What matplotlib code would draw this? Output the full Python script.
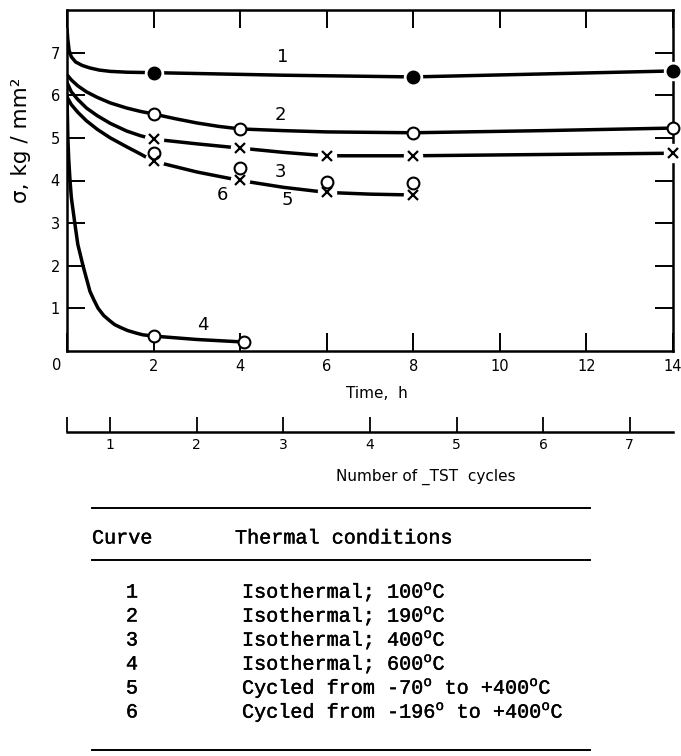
import matplotlib
matplotlib.use("Agg")
import matplotlib.pyplot as plt
from matplotlib.lines import Line2D
from matplotlib.transforms import blended_transform_factory
import matplotlib.patheffects as pe

plt.rcParams['font.family'] = ['DejaVu Sans']
plt.rcParams['mathtext.fontset'] = 'custom'
plt.rcParams['mathtext.rm'] = 'Liberation Mono'

# ---- data ----
# curve paths (time h, sigma kg/mm2)
c1_t = [0, 0.02, 0.05, 0.1, 0.2, 0.35, 0.53, 0.75, 1.0, 1.4, 2, 5, 8, 11, 14]
c1_s = [7.55, 7.3, 7.05, 6.9, 6.78, 6.7, 6.64, 6.59, 6.56, 6.54, 6.53, 6.47, 6.43, 6.5, 6.57]
c2_t = [0, 0.1, 0.25, 0.45, 0.7, 1.0, 1.38, 1.7, 2, 2.5, 3, 3.5, 4, 5, 6, 8, 11, 14]
c2_s = [6.48, 6.36, 6.22, 6.08, 5.95, 5.82, 5.70, 5.62, 5.56, 5.45, 5.35, 5.27, 5.21, 5.17, 5.14, 5.12, 5.17, 5.23]
c3_t = [0, 0.1, 0.25, 0.45, 0.7, 1.0, 1.38, 1.7, 2, 3, 4, 5, 6, 8, 11, 14]
c3_s = [6.3, 6.08, 5.9, 5.7, 5.52, 5.34, 5.16, 5.05, 4.97, 4.86, 4.76, 4.66, 4.58, 4.58, 4.61, 4.64]
c5_t = [0, 0.1, 0.25, 0.45, 0.7, 1.0, 1.38, 1.7, 2, 3, 4, 5, 6, 7, 8]
c5_s = [5.96, 5.78, 5.6, 5.4, 5.2, 5.0, 4.79, 4.62, 4.45, 4.2, 4.0, 3.84, 3.72, 3.68, 3.66]
c4_t = [0, 0.02, 0.04, 0.07, 0.1, 0.18, 0.25, 0.37, 0.45, 0.53, 0.62, 0.72, 0.85, 1.0, 1.1, 1.22, 1.4, 1.6, 1.75, 2, 3, 4.1]
c4_s = [6.0, 5.0, 4.5, 4.0, 3.6, 3.0, 2.5, 2.0, 1.7, 1.4, 1.2, 1.0, 0.83, 0.7, 0.62, 0.56, 0.48, 0.42, 0.38, 0.35, 0.27, 0.21]

# measured points
p1_t = [2, 8, 14];            p1_s = [6.53, 6.43, 6.57]
p2_t = [2, 4, 8, 14];         p2_s = [5.56, 5.21, 5.12, 5.23]
p3_t = [2, 4, 6, 8, 14];      p3_s = [4.97, 4.76, 4.58, 4.58, 4.64]
p4_t = [2, 4.1];              p4_s = [0.35, 0.21]
p5_t = [2, 4, 6, 8];          p5_s = [4.45, 4.01, 3.72, 3.66]
p6_t = [2, 4, 6, 8];          p6_s = [4.65, 4.29, 3.97, 3.94]

curve_labels = ['1', '2', '3', '4', '5', '6']
label_pos_t = [4.99, 4.94, 4.92, 3.14, 5.08, 3.6]
label_pos_s = [6.9, 5.54, 4.2, 0.61, 3.54, 3.66]

x_ticks = [0, 2, 4, 6, 8, 10, 12, 14]
y_ticks = [1, 2, 3, 4, 5, 6, 7]
cycle_ticks = [1, 2, 3, 4, 5, 6, 7]

table_curves = ['1', '2', '3', '4', '5', '6']
table_conditions = [
    r'Isothermal; 100$^{\rm o}$C',
    r'Isothermal; 190$^{\rm o}$C',
    r'Isothermal; 400$^{\rm o}$C',
    r'Isothermal; 600$^{\rm o}$C',
    r'Cycled from -70$^{\rm o}$ to +400$^{\rm o}$C',
    r'Cycled from -196$^{\rm o}$ to +400$^{\rm o}$C',
]

W, H = 681, 756
def fx(x): return x / W
def fy(y): return 1 - y / H

fig = plt.figure(figsize=(W / 100, H / 100), dpi=100)
ax = fig.add_axes([fx(67), fy(351), (673 - 67) / W, (351 - 10) / H])
ax.set_xlim(0, 14)
ax.set_ylim(0, 8)
for sp in ax.spines.values():
    sp.set_linewidth(1.8)

lw = 2.5
for t, s in [(c1_t, c1_s), (c2_t, c2_s), (c3_t, c3_s), (c5_t, c5_s), (c4_t, c4_s)]:
    ax.plot(t, s, color='black', lw=lw, solid_capstyle='round', solid_joinstyle='round', zorder=2)

# white halos to imitate the gaps drawn around the points
for t, s in [(p1_t, p1_s), (p3_t, p3_s), (p5_t, p5_s)]:
    ax.plot(t, s, ls='none', marker='o', ms=13, mfc='white', mec='white', zorder=3, clip_on=False)

ax.plot(p1_t, p1_s, ls='none', marker='o', ms=9, mfc='black', mec='black', zorder=4, clip_on=False)
for t, s in [(p2_t, p2_s), (p4_t, p4_s), (p6_t, p6_s)]:
    ax.plot(t, s, ls='none', marker='o', ms=8.5, mfc='white', mec='black', mew=1.5, zorder=4, clip_on=False)
for t, s in [(p3_t, p3_s), (p5_t, p5_s)]:
    ax.plot(t, s, ls='none', marker='x', ms=6.5, mec='black', mew=1.6, zorder=4, clip_on=False)

for lab, t, s in zip(curve_labels, label_pos_t, label_pos_s):
    ax.text(t, s, lab, ha='center', va='center', fontsize=13, color='black')

ax.set_xticks(x_ticks)
ax.set_xticklabels([''] + [str(v) for v in x_ticks[1:]])
ax.set_yticks(y_ticks)
ax.set_yticklabels([str(v) for v in y_ticks])
ax.tick_params(direction='in', length=13, width=1.4, top=True, right=True,
               labelsize=10.5, pad=6)
ax.tick_params(axis='y', pad=5)
trans = blended_transform_factory(ax.transData, ax.transAxes)
ax.text(-0.23, -0.042, '0', transform=trans, ha='center', va='center', fontsize=10.5)

# secondary axis: number of TST cycles (cycle n <-> 2n-1 h)
sec = ax.secondary_xaxis(-(432 - 351) / 341,
                         functions=(lambda t: (t + 1) / 2, lambda c: 2 * c - 1))
sec.set_xticks([0.5] + cycle_ticks)
sec.set_xticklabels([''] + [str(c) for c in cycle_ticks])
sec.tick_params(direction='in', length=11, width=1.3, labelsize=10, pad=4)
sec.spines['bottom'].set_linewidth(1.8)

fig.text(fx(377), fy(393), 'Time,  h', ha='center', va='center', fontsize=11)
fig.text(fx(426), fy(477), 'Number of _TST  cycles', ha='center', va='center', fontsize=11)
fig.text(fx(21), fy(140), 'σ, kg / mm²', rotation=90, ha='center', va='center', fontsize=15.5)

# table
mono = 'Liberation Mono'
tfs = 14.5
thick = [pe.withStroke(linewidth=0.3, foreground='black')]
for y in [508, 560, 750]:
    fig.add_artist(Line2D([fx(92), fx(590)], [fy(y), fy(y)], color='black', lw=1.4))
fig.text(fx(92), fy(538), 'Curve', family=mono, fontsize=tfs, ha='left', va='center', path_effects=thick)
fig.text(fx(235), fy(538), 'Thermal conditions', family=mono, fontsize=tfs, ha='left', va='center', path_effects=thick)
row_y = [592, 616, 640, 664, 688, 712]
for num, cond, y in zip(table_curves, table_conditions, row_y):
    fig.text(fx(132), fy(y), num, family=mono, fontsize=tfs, ha='center', va='center', path_effects=thick)
    fig.text(fx(242), fy(y), cond, family=mono, fontsize=tfs, ha='left', va='center', path_effects=thick)

fig.savefig('out.png', dpi=100)
